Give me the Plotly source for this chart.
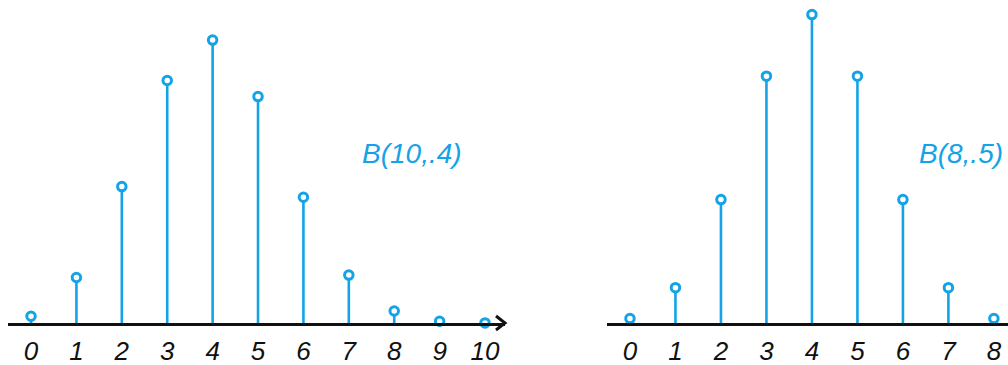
import plotly.graph_objects as go

# Binomial probability mass functions drawn as stem plots
k_left = list(range(11))
p_left = [0.0060, 0.0403, 0.1209, 0.2150, 0.2508, 0.2007,
          0.1115, 0.0425, 0.0106, 0.0016, 0.0001]
label_left = "B(10,.4)"

k_right = list(range(9))
p_right = [0.0039, 0.0313, 0.1094, 0.2188, 0.2734, 0.2188,
           0.1094, 0.0313, 0.0039]
label_right = "B(8,.5)"

tick_left = [str(k) for k in k_left]
tick_right = [str(k) for k in k_right]

BLUE = "#13a3e6"
INK = "#111111"
W, H = 1008, 365
BASE_PX = 42          # distance of the baseline from the bottom edge
PX_PER_UNIT = 1128    # vertical pixels per unit of probability
Y_TOP = (H - BASE_PX) / PX_PER_UNIT
HAND = "Liberation Sans"

fig = go.Figure()


def stems(ks, ps, xa, ya):
    xs, ys = [], []
    for k, p in zip(ks, ps):
        xs += [k, k, None]
        ys += [0, p, None]
    fig.add_trace(go.Scatter(
        x=xs, y=ys, mode="lines", xaxis=xa, yaxis=ya,
        line=dict(color=BLUE, width=2.6), hoverinfo="skip",
        showlegend=False, cliponaxis=False))
    fig.add_trace(go.Scatter(
        x=ks, y=ps, mode="markers", xaxis=xa, yaxis=ya,
        marker=dict(size=8.5, color="white", line=dict(color=BLUE, width=3)),
        showlegend=False, cliponaxis=False))


stems(k_left, p_left, "x", "y")
stems(k_right, p_right, "x2", "y2")

tick_font = dict(family=HAND, size=26, color=INK, style="italic")
ydom = [BASE_PX / H, 1]
common_x = dict(tickmode="array", tickfont=tick_font, ticks="",
                showgrid=False, zeroline=False, showline=True,
                linecolor=INK, linewidth=3, ticklabelstandoff=3,
                automargin=False)

fig.update_layout(
    width=W, height=H,
    margin=dict(l=0, r=0, t=0, b=0),
    paper_bgcolor="white", plot_bgcolor="white",
    xaxis=dict(domain=[8 / W, 505 / W], range=[-0.507, 10.44],
               tickvals=k_left, ticktext=tick_left, anchor="y", **common_x),
    yaxis=dict(domain=ydom, range=[0, Y_TOP], visible=False,
               automargin=False),
    xaxis2=dict(domain=[607 / W, 1], range=[-0.505, 8.31],
                tickvals=k_right, ticktext=tick_right, anchor="y2",
                **common_x),
    yaxis2=dict(domain=ydom, range=[0, Y_TOP], visible=False,
                automargin=False),
    showlegend=False,
)

# open arrowhead at the right end of the left axis
fig.add_shape(type="path", xref="x domain", yref="y domain",
              xsizemode="pixel", ysizemode="pixel",
              xanchor=1, yanchor=0,
              path="M -9,7 L 0,0 L -9,-7",
              line=dict(color=INK, width=3))

label_font = dict(family=HAND, size=28, color=BLUE, style="italic")
fig.add_annotation(x=8.39, y=0.150, xref="x", yref="y", text=label_left,
                   showarrow=False, font=label_font)
fig.add_annotation(x=7.27, y=0.150, xref="x2", yref="y2", text=label_right,
                   showarrow=False, font=label_font)

fig.write_html("out.html")
